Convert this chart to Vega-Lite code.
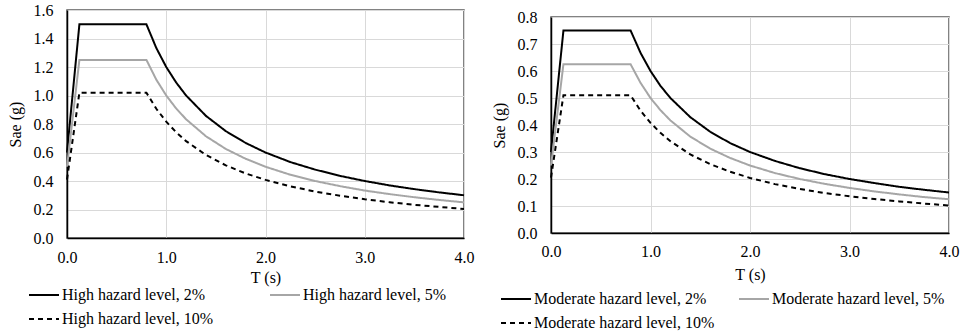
{
  "$schema": "https://vega.github.io/schema/vega-lite/v6.json",
  "padding": {"left": 6, "top": 1, "right": 9, "bottom": 0},
  "spacing": 15,
  "config": {
    "font": "Liberation Serif",
    "view": {"stroke": "#595959", "strokeWidth": 1.5},
    "style": {
      "guide-label": {"font": "Liberation Serif", "fontSize": 16, "fill": "#000"},
      "guide-title": {"font": "Liberation Serif", "fontSize": 16, "fill": "#000", "fontWeight": "normal"}
    },
    "axis": {
      "labelFont": "Liberation Serif", "titleFont": "Liberation Serif",
      "labelFontSize": 16, "titleFontSize": 16, "labelColor": "#000", "titleColor": "#000",
      "titleFontWeight": "normal", "ticks": false, "domainColor": "#000", "domainWidth": 1.5,
      "gridColor": "#d9d9d9", "gridWidth": 1, "labelFlush": false
    },
    "legend": {
      "labelFont": "Liberation Serif", "labelFontSize": 16, "labelColor": "#000",
      "symbolType": "stroke", "symbolSize": 900, "symbolStrokeWidth": 2, "labelOffset": 2,
      "rowPadding": 0, "columns": 2, "labelLimit": 300
    }
  },
  "datasets": {
    "high": [
      {"series": "High hazard level, 2%", "T": 0, "Sae": 0.6},
      {"series": "High hazard level, 2%", "T": 0.125, "Sae": 1.5},
      {"series": "High hazard level, 2%", "T": 0.8, "Sae": 1.5},
      {"series": "High hazard level, 2%", "T": 0.9, "Sae": 1.333},
      {"series": "High hazard level, 2%", "T": 1.0, "Sae": 1.2},
      {"series": "High hazard level, 2%", "T": 1.1, "Sae": 1.091},
      {"series": "High hazard level, 2%", "T": 1.2, "Sae": 1.0},
      {"series": "High hazard level, 2%", "T": 1.4, "Sae": 0.857},
      {"series": "High hazard level, 2%", "T": 1.6, "Sae": 0.75},
      {"series": "High hazard level, 2%", "T": 1.8, "Sae": 0.667},
      {"series": "High hazard level, 2%", "T": 2.0, "Sae": 0.6},
      {"series": "High hazard level, 2%", "T": 2.25, "Sae": 0.533},
      {"series": "High hazard level, 2%", "T": 2.5, "Sae": 0.48},
      {"series": "High hazard level, 2%", "T": 2.75, "Sae": 0.436},
      {"series": "High hazard level, 2%", "T": 3.0, "Sae": 0.4},
      {"series": "High hazard level, 2%", "T": 3.25, "Sae": 0.369},
      {"series": "High hazard level, 2%", "T": 3.5, "Sae": 0.343},
      {"series": "High hazard level, 2%", "T": 3.75, "Sae": 0.32},
      {"series": "High hazard level, 2%", "T": 4.0, "Sae": 0.3},
      {"series": "High hazard level, 5%", "T": 0, "Sae": 0.5},
      {"series": "High hazard level, 5%", "T": 0.125, "Sae": 1.25},
      {"series": "High hazard level, 5%", "T": 0.8, "Sae": 1.25},
      {"series": "High hazard level, 5%", "T": 0.9, "Sae": 1.111},
      {"series": "High hazard level, 5%", "T": 1.0, "Sae": 1.0},
      {"series": "High hazard level, 5%", "T": 1.1, "Sae": 0.909},
      {"series": "High hazard level, 5%", "T": 1.2, "Sae": 0.833},
      {"series": "High hazard level, 5%", "T": 1.4, "Sae": 0.714},
      {"series": "High hazard level, 5%", "T": 1.6, "Sae": 0.625},
      {"series": "High hazard level, 5%", "T": 1.8, "Sae": 0.556},
      {"series": "High hazard level, 5%", "T": 2.0, "Sae": 0.5},
      {"series": "High hazard level, 5%", "T": 2.25, "Sae": 0.444},
      {"series": "High hazard level, 5%", "T": 2.5, "Sae": 0.4},
      {"series": "High hazard level, 5%", "T": 2.75, "Sae": 0.364},
      {"series": "High hazard level, 5%", "T": 3.0, "Sae": 0.333},
      {"series": "High hazard level, 5%", "T": 3.25, "Sae": 0.308},
      {"series": "High hazard level, 5%", "T": 3.5, "Sae": 0.286},
      {"series": "High hazard level, 5%", "T": 3.75, "Sae": 0.267},
      {"series": "High hazard level, 5%", "T": 4.0, "Sae": 0.25},
      {"series": "High hazard level, 10%", "T": 0, "Sae": 0.41},
      {"series": "High hazard level, 10%", "T": 0.125, "Sae": 1.02},
      {"series": "High hazard level, 10%", "T": 0.8, "Sae": 1.02},
      {"series": "High hazard level, 10%", "T": 0.9, "Sae": 0.907},
      {"series": "High hazard level, 10%", "T": 1.0, "Sae": 0.816},
      {"series": "High hazard level, 10%", "T": 1.1, "Sae": 0.742},
      {"series": "High hazard level, 10%", "T": 1.2, "Sae": 0.68},
      {"series": "High hazard level, 10%", "T": 1.4, "Sae": 0.583},
      {"series": "High hazard level, 10%", "T": 1.6, "Sae": 0.51},
      {"series": "High hazard level, 10%", "T": 1.8, "Sae": 0.453},
      {"series": "High hazard level, 10%", "T": 2.0, "Sae": 0.408},
      {"series": "High hazard level, 10%", "T": 2.25, "Sae": 0.363},
      {"series": "High hazard level, 10%", "T": 2.5, "Sae": 0.326},
      {"series": "High hazard level, 10%", "T": 2.75, "Sae": 0.297},
      {"series": "High hazard level, 10%", "T": 3.0, "Sae": 0.272},
      {"series": "High hazard level, 10%", "T": 3.25, "Sae": 0.251},
      {"series": "High hazard level, 10%", "T": 3.5, "Sae": 0.233},
      {"series": "High hazard level, 10%", "T": 3.75, "Sae": 0.218},
      {"series": "High hazard level, 10%", "T": 4.0, "Sae": 0.204}
    ],
    "moderate": [
      {"series": "Moderate hazard level, 2%", "T": 0, "Sae": 0.3},
      {"series": "Moderate hazard level, 2%", "T": 0.125, "Sae": 0.75},
      {"series": "Moderate hazard level, 2%", "T": 0.8, "Sae": 0.75},
      {"series": "Moderate hazard level, 2%", "T": 0.9, "Sae": 0.667},
      {"series": "Moderate hazard level, 2%", "T": 1.0, "Sae": 0.6},
      {"series": "Moderate hazard level, 2%", "T": 1.1, "Sae": 0.545},
      {"series": "Moderate hazard level, 2%", "T": 1.2, "Sae": 0.5},
      {"series": "Moderate hazard level, 2%", "T": 1.4, "Sae": 0.429},
      {"series": "Moderate hazard level, 2%", "T": 1.6, "Sae": 0.375},
      {"series": "Moderate hazard level, 2%", "T": 1.8, "Sae": 0.333},
      {"series": "Moderate hazard level, 2%", "T": 2.0, "Sae": 0.3},
      {"series": "Moderate hazard level, 2%", "T": 2.25, "Sae": 0.267},
      {"series": "Moderate hazard level, 2%", "T": 2.5, "Sae": 0.24},
      {"series": "Moderate hazard level, 2%", "T": 2.75, "Sae": 0.218},
      {"series": "Moderate hazard level, 2%", "T": 3.0, "Sae": 0.2},
      {"series": "Moderate hazard level, 2%", "T": 3.25, "Sae": 0.185},
      {"series": "Moderate hazard level, 2%", "T": 3.5, "Sae": 0.171},
      {"series": "Moderate hazard level, 2%", "T": 3.75, "Sae": 0.16},
      {"series": "Moderate hazard level, 2%", "T": 4.0, "Sae": 0.15},
      {"series": "Moderate hazard level, 5%", "T": 0, "Sae": 0.25},
      {"series": "Moderate hazard level, 5%", "T": 0.125, "Sae": 0.625},
      {"series": "Moderate hazard level, 5%", "T": 0.8, "Sae": 0.625},
      {"series": "Moderate hazard level, 5%", "T": 0.9, "Sae": 0.556},
      {"series": "Moderate hazard level, 5%", "T": 1.0, "Sae": 0.5},
      {"series": "Moderate hazard level, 5%", "T": 1.1, "Sae": 0.455},
      {"series": "Moderate hazard level, 5%", "T": 1.2, "Sae": 0.417},
      {"series": "Moderate hazard level, 5%", "T": 1.4, "Sae": 0.357},
      {"series": "Moderate hazard level, 5%", "T": 1.6, "Sae": 0.3125},
      {"series": "Moderate hazard level, 5%", "T": 1.8, "Sae": 0.278},
      {"series": "Moderate hazard level, 5%", "T": 2.0, "Sae": 0.25},
      {"series": "Moderate hazard level, 5%", "T": 2.25, "Sae": 0.222},
      {"series": "Moderate hazard level, 5%", "T": 2.5, "Sae": 0.2},
      {"series": "Moderate hazard level, 5%", "T": 2.75, "Sae": 0.182},
      {"series": "Moderate hazard level, 5%", "T": 3.0, "Sae": 0.167},
      {"series": "Moderate hazard level, 5%", "T": 3.25, "Sae": 0.154},
      {"series": "Moderate hazard level, 5%", "T": 3.5, "Sae": 0.143},
      {"series": "Moderate hazard level, 5%", "T": 3.75, "Sae": 0.133},
      {"series": "Moderate hazard level, 5%", "T": 4.0, "Sae": 0.125},
      {"series": "Moderate hazard level, 10%", "T": 0, "Sae": 0.205},
      {"series": "Moderate hazard level, 10%", "T": 0.125, "Sae": 0.51},
      {"series": "Moderate hazard level, 10%", "T": 0.8, "Sae": 0.51},
      {"series": "Moderate hazard level, 10%", "T": 0.9, "Sae": 0.453},
      {"series": "Moderate hazard level, 10%", "T": 1.0, "Sae": 0.408},
      {"series": "Moderate hazard level, 10%", "T": 1.1, "Sae": 0.371},
      {"series": "Moderate hazard level, 10%", "T": 1.2, "Sae": 0.34},
      {"series": "Moderate hazard level, 10%", "T": 1.4, "Sae": 0.291},
      {"series": "Moderate hazard level, 10%", "T": 1.6, "Sae": 0.255},
      {"series": "Moderate hazard level, 10%", "T": 1.8, "Sae": 0.227},
      {"series": "Moderate hazard level, 10%", "T": 2.0, "Sae": 0.204},
      {"series": "Moderate hazard level, 10%", "T": 2.25, "Sae": 0.181},
      {"series": "Moderate hazard level, 10%", "T": 2.5, "Sae": 0.163},
      {"series": "Moderate hazard level, 10%", "T": 2.75, "Sae": 0.148},
      {"series": "Moderate hazard level, 10%", "T": 3.0, "Sae": 0.136},
      {"series": "Moderate hazard level, 10%", "T": 3.25, "Sae": 0.126},
      {"series": "Moderate hazard level, 10%", "T": 3.5, "Sae": 0.117},
      {"series": "Moderate hazard level, 10%", "T": 3.75, "Sae": 0.109},
      {"series": "Moderate hazard level, 10%", "T": 4.0, "Sae": 0.102}
    ]
  },
  "hconcat": [
    {
      "width": 397, "height": 228,
      "data": {"name": "high"},
      "mark": {"type": "line", "strokeWidth": 2},
      "encoding": {
        "x": {"field": "T", "type": "quantitative", "scale": {"domain": [0, 4], "nice": false},
              "axis": {"title": "T (s)", "values": [0, 1, 2, 3, 4], "format": ".1f", "labelPadding": 11, "titlePadding": 4, "labelFlush": false,
                       "labelFont": "Liberation Serif", "labelFontSize": 16, "titleFont": "Liberation Serif", "titleFontSize": 16}},
        "y": {"field": "Sae", "type": "quantitative", "scale": {"domain": [0, 1.6], "nice": false},
              "axis": {"title": "Sae (g)", "values": [0, 0.2, 0.4, 0.6, 0.8, 1.0, 1.2, 1.4, 1.6], "format": ".1f", "labelPadding": 14, "titlePadding": 10,
                       "labelFont": "Liberation Serif", "labelFontSize": 16, "titleFont": "Liberation Serif", "titleFontSize": 16}},
        "color": {"field": "series", "type": "nominal",
                  "scale": {"domain": ["High hazard level, 2%", "High hazard level, 5%", "High hazard level, 10%"], "range": ["#000000", "#a6a6a6", "#000000"]},
                  "legend": {"title": null, "orient": "none", "legendX": -39, "legendY": 269, "columnPadding": 52,
                             "values": ["High hazard level, 2%", "High hazard level, 10%", "High hazard level, 5%"]}},
        "strokeDash": {"field": "series", "type": "nominal",
                  "scale": {"domain": ["High hazard level, 2%", "High hazard level, 5%", "High hazard level, 10%"], "range": [[1, 0], [1, 0], [5, 4]]},
                  "legend": {"title": null, "orient": "none", "legendX": -39, "legendY": 269, "columnPadding": 52,
                             "values": ["High hazard level, 2%", "High hazard level, 10%", "High hazard level, 5%"]}}
      }
    },
    {
      "spacing": 6,
      "bounds": "flush",
      "vconcat": [
        {
          "width": 398, "height": 1,
          "view": {"stroke": null},
          "data": {"values": []},
          "mark": "point"
        },
        {
          "width": 398, "height": 216,
          "data": {"name": "moderate"},
          "mark": {"type": "line", "strokeWidth": 2},
          "encoding": {
            "x": {"field": "T", "type": "quantitative", "scale": {"domain": [0, 4], "nice": false},
                  "axis": {"title": "T (s)", "values": [0, 1, 2, 3, 4], "format": ".1f", "labelPadding": 10, "titlePadding": 7, "labelFlush": false,
                           "labelFont": "Liberation Serif", "labelFontSize": 16, "titleFont": "Liberation Serif", "titleFontSize": 16}},
            "y": {"field": "Sae", "type": "quantitative", "scale": {"domain": [0, 0.8], "nice": false},
                  "axis": {"title": "Sae (g)", "values": [0, 0.1, 0.2, 0.3, 0.4, 0.5, 0.6, 0.7, 0.8], "format": ".1f", "labelPadding": 14, "titlePadding": 10,
                           "labelFont": "Liberation Serif", "labelFontSize": 16, "titleFont": "Liberation Serif", "titleFontSize": 16}},
            "color": {"field": "series", "type": "nominal",
                      "scale": {"domain": ["Moderate hazard level, 2%", "Moderate hazard level, 5%", "Moderate hazard level, 10%"], "range": ["#000000", "#a6a6a6", "#000000"]},
                      "legend": {"title": null, "orient": "none", "legendX": -51, "legendY": 273, "columnPadding": 20,
                                 "values": ["Moderate hazard level, 2%", "Moderate hazard level, 10%", "Moderate hazard level, 5%"]}},
            "strokeDash": {"field": "series", "type": "nominal",
                      "scale": {"domain": ["Moderate hazard level, 2%", "Moderate hazard level, 5%", "Moderate hazard level, 10%"], "range": [[1, 0], [1, 0], [5, 4]]},
                      "legend": {"title": null, "orient": "none", "legendX": -51, "legendY": 273, "columnPadding": 20,
                                 "values": ["Moderate hazard level, 2%", "Moderate hazard level, 10%", "Moderate hazard level, 5%"]}}
          }
        }
      ]
    }
  ],
  "resolve": {"scale": {"color": "independent", "strokeDash": "independent", "x": "independent", "y": "independent"}}
}
